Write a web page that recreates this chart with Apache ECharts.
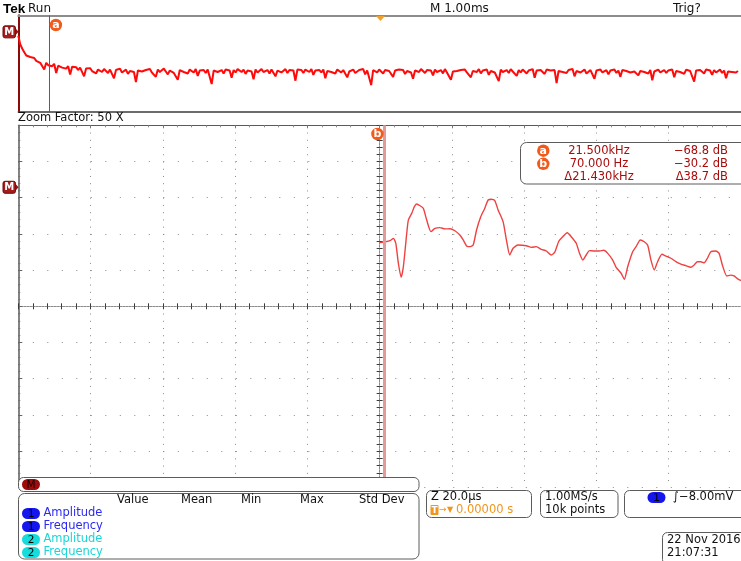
<!DOCTYPE html>
<html>
<head>
<meta charset="utf-8">
<script src="https://cdn.jsdelivr.net/npm/echarts@6/dist/echarts.min.js"></script>
<style>
  html, body { margin: 0; padding: 0; background: #ffffff; }
  #scope { width: 741px; height: 561px; }
</style>
</head>
<body>
<div id="scope"></div>
<script>
// FFT of the math channel (M): full-span overview, 0..500 kHz, level in dB.
const overviewStepKHz = 1.3793;
const overviewDb = [
  -8, -26, -35, -42, -49, -46, -52, -55, -54, -60, -57, -64, -61, -78, -64, -69, -68, -71, -66, -85,
  -70, -68, -74, -70, -76, -71, -88, -72, -75, -73, -79, -74, -77, -92, -76, -80, -75, -81, -77, -86,
  -78,
  -79, -83, -77, -81, -85, -78, -80, -96, -79, -82, -76, -84, -80, -78, -87, -81, -77, -83, -104, -80,
  -78, -82, -86, -79, -81, -77, -84, -80, -93, -78, -83, -79, -76, -82, -88, -80, -78, -85, -81, -99,
  -79, -77, -83, -80, -86, -78, -81, -84, -77, -91, -80, -82, -79, -85, -78, -81, -108, -80, -77, -83,
  -81, -79, -86, -78, -82, -80, -95, -79, -84, -77, -81, -83, -78, -87, -80, -79, -82, -98, -78, -84,
  -80, -77, -83, -81, -79, -86, -78, -82, -92, -80, -78, -84, -81, -77, -85, -79, -83, -80, -101, -78,
  -82, -79, -85, -78, -81, -83, -77, -89, -80, -82, -79, -84, -78, -96, -81, -79, -83, -80, -86, -78,
  -81, -84, -79, -77, -94, -82, -80, -78, -85, -81, -79, -83, -77, -88, -80, -82, -110, -79, -81, -84,
  -78, -80, -86, -79, -83, -81, -77, -93, -80, -84, -78, -82, -79, -87, -81, -78, -84, -97, -80, -79,
  -83, -77, -81, -85, -79, -82, -80, -90, -78, -83, -81, -79, -86, -77, -84, -80, -99, -82, -78, -81,
  -85, -79, -82, -78, -84, -80, -94, -81, -79, -83, -77, -86, -80, -82, -78, -89, -81, -79, -84, -80,
  -102, -78, -83, -81, -79, -85, -77, -82, -80, -91, -79, -84, -78, -81, -86, -80, -82, -77, -95, -80,
  -83, -79, -81, -87, -78, -82, -80, -84, -79, -106, -81, -78, -83, -80, -85, -79, -82, -77, -92, -81,
  -79, -84, -80, -78, -86, -82, -79, -81, -97, -80, -83, -78, -84, -81, -79, -88, -80, -82, -78, -85,
  -80, -93, -79, -83, -81, -78, -84, -80, -82, -79, -90, -81, -77, -83, -80, -86, -79, -100, -82, -80,
  -78, -84, -81, -79, -85, -80, -82, -78, -94, -81, -79, -83, -80, -87, -78, -82, -81, -79, -103, -80,
  -83, -79, -81, -86, -78, -82, -80, -89, -79, -84, -81, -78, -85, -80, -96, -82, -79, -83, -80, -84,
  -81
];

// Zoomed view (50 X): -5 kHz .. +5 kHz window, spectrum starts at 0 Hz.
const zoomFreqHz = [
  0, 70, 145, 190, 223, 259, 297, 328, 375, 397, 444, 480, 513, 559, 604, 651, 710, 766, 834, 903,
  972, 1041, 1110, 1156, 1203, 1248, 1294, 1341, 1400, 1455, 1501, 1548, 1593, 1639, 1708, 1754, 1800, 1846, 1914, 2030,
  2099, 2168, 2237, 2306, 2375, 2421, 2476, 2513, 2596, 2651, 2720, 2766, 2811, 2858, 2903, 2972, 3041, 3101, 3156, 3225,
  3272, 3341, 3386, 3432, 3501, 3548, 3607, 3662, 3708, 3754, 3800, 3846, 3906, 3961, 4030, 4099, 4168, 4237, 4306, 4352,
  4397, 4444, 4490, 4535, 4582, 4651, 4697, 4742, 4803, 4858, 4903, 4959, 5000
];
const zoomDb = [
  -30.6, -30.2, -29.5, -28.2, -30.9, -42.0, -49.7, -43.9, -25.4, -18.1, -14.4, -10.7, -9.2, -10.2, -11.6, -18.1, -24.5, -22.7, -22.3, -23.0,
  -22.9, -24.0, -26.4, -29.1, -32.4, -32.8, -31.9, -23.6, -16.2, -11.6, -7.0, -6.6, -7.4, -12.5, -19.0, -29.1, -37.4, -33.7, -31.9, -32.3,
  -33.2, -32.8, -34.3, -35.2, -37.4, -36.0, -30.1, -28.2, -25.1, -27.3, -30.9, -36.5, -40.2, -37.4, -35.0, -35.2, -35.2, -34.8, -36.5, -40.2,
  -44.2, -47.5, -50.8, -43.9, -35.6, -32.8, -29.1, -30.1, -31.9, -40.2, -45.7, -41.1, -37.0, -38.0, -39.2, -41.1, -42.4, -43.3, -44.2, -42.9,
  -41.1, -41.1, -41.7, -39.2, -35.6, -35.2, -36.5, -42.9, -49.0, -48.5, -49.0, -50.7, -51.5
];

// Cursor readouts.
const cursorAKHz = 21.5;
const cursorBHz = 70;
const readoutFreq = ['21.500kHz', '70.000 Hz', '\u039421.430kHz'];
const readoutLevel = ['\u221268.8 dB', '\u221230.2 dB', '\u039438.7 dB'];

// Measurement table.
const measureHeaders = ['Value', 'Mean', 'Min', 'Max', 'Std Dev'];
const measureRows = [['1', 'Amplitude'], ['1', 'Frequency'], ['2', 'Amplitude'], ['2', 'Frequency']];

// Vertical scale: 20 dB per division, 10 divisions.
const DB_MAX = 34.25;
const DB_MIN = -165.75;

const FONT = '"DejaVu Sans", "Noto Sans", sans-serif';
const chart = echarts.init(document.getElementById('scope'), null, { renderer: 'canvas' });

const overviewData = overviewDb.map((v, i) => [i * overviewStepKHz, v]);
const zoomData = zoomFreqHz.map((f, i) => [f, zoomDb[i]]);

const noParts = { axisLabel: { show: false }, axisTick: { show: false }, splitLine: { show: false } };

function centreAxis(extra, inside) {
  return Object.assign({
    gridIndex: 1, type: 'value', min: -5, max: 5, interval: 1,
    axisLine: { show: true, onZero: true, lineStyle: { color: '#8c8c8c', width: 1, type: [2, 1] } },
    axisTick: { show: true, inside: inside, length: 3, lineStyle: { color: '#3a3a3a', width: 1 } },
    minorTick: { show: true, splitNumber: 5, length: 3, lineStyle: { color: '#3a3a3a', width: 1 } },
    axisLabel: { show: false },
    splitLine: { show: false }
  }, extra);
}

chart.setOption({
  animation: false,
  backgroundColor: '#ffffff',
  grid: [
    { left: 18.3, top: 15.3, width: 725, height: 96.7 },
    { left: 18.3, top: 125.3, width: 725, height: 362 }
  ],
  xAxis: [
    Object.assign({ gridIndex: 0, type: 'value', min: 0, max: 500, position: 'top',
      axisLine: { show: true, onZero: false, lineStyle: { color: '#8c8c8c', width: 2 } } }, noParts),
    Object.assign({ gridIndex: 0, type: 'value', min: 0, max: 500, position: 'bottom',
      axisLine: { show: true, onZero: false, lineStyle: { color: '#3c3c3c', width: 1.5 } } }, noParts),
    { gridIndex: 1, type: 'value', min: -5000, max: 5000, interval: 1000, position: 'top',
      axisLine: { show: true, onZero: false, lineStyle: { color: '#5a5a5a', width: 1 } },
      axisTick: { show: true, inside: true, length: 3, lineStyle: { color: '#777' } },
      minorTick: { show: true, splitNumber: 5, length: 2, lineStyle: { color: '#888' } },
      axisLabel: { show: false },
      splitLine: { show: true, lineStyle: { color: '#8a8a8a', width: 1, type: [1, 6.24] } } },
    centreAxis({ position: 'bottom', axisLine: { show: true, onZero: true, onZeroAxisIndex: 2,
      lineStyle: { color: '#8c8c8c', width: 1, type: [2, 1] } } }, true),
    centreAxis({ position: 'bottom', axisLine: { show: false, onZero: true, onZeroAxisIndex: 2 } }, false)
  ],
  yAxis: [
    Object.assign({ gridIndex: 0, type: 'value', min: DB_MIN, max: DB_MAX, position: 'left',
      axisLine: { show: true, onZero: false, lineStyle: { color: '#8b0a0a', width: 2 } } }, noParts),
    Object.assign({ gridIndex: 1, type: 'value', min: DB_MIN, max: DB_MAX, show: false }, noParts),
    { gridIndex: 1, type: 'value', min: -5, max: 5, interval: 1, position: 'left',
      axisLine: { show: true, onZero: false, lineStyle: { color: '#5a5a5a', width: 1.5 } },
      axisTick: { show: true, inside: true, length: 4, lineStyle: { color: '#666' } },
      minorTick: { show: true, splitNumber: 5, length: 2, lineStyle: { color: '#777' } },
      axisLabel: { show: false },
      splitLine: { show: true, lineStyle: { color: '#8a8a8a', width: 1, type: [1, 13.5] } } },
    centreAxis({ position: 'left', axisLine: { show: true, onZero: true, onZeroAxisIndex: 3,
      lineStyle: { color: '#8c8c8c', width: 1, type: [2, 1] } } }, true),
    centreAxis({ position: 'left', axisLine: { show: false, onZero: true, onZeroAxisIndex: 3 } }, false)
  ],
  series: [
    {
      name: 'M overview', type: 'line', xAxisIndex: 0, yAxisIndex: 0,
      data: overviewData, showSymbol: false, symbol: 'none', z: 4,
      lineStyle: { color: '#ff0a0a', width: 2 },
      markLine: {
        silent: true, symbol: ['none', 'none'], animation: false,
        label: { show: false },
        lineStyle: { color: '#b23a3a', width: 1, type: 'solid' },
        data: [{ xAxis: cursorAKHz }]
      }
    },
    {
      name: 'M zoom', type: 'line', xAxisIndex: 2, yAxisIndex: 1,
      data: zoomData, showSymbol: false, symbol: 'none', smooth: 0.2, z: 4,
      lineStyle: { color: '#ee4242', width: 1.4 },
      markLine: {
        silent: true, symbol: ['none', 'none'], animation: false,
        label: { show: false },
        lineStyle: { color: '#e29a9a', width: 3, type: 'solid' },
        data: [{ xAxis: cursorBHz }]
      }
    }
  ]
});

// ---- screen annotations ----
function txt(x, y, s, o) {
  o = o || {};
  return {
    type: 'text', x: x, y: y, z: 130, silent: true,
    style: {
      text: s, fill: o.color || '#111',
      font: (o.weight || 'normal') + ' ' + (o.size || 11.5) + 'px ' + (o.family || FONT),
      textAlign: o.align || 'left', textVerticalAlign: 'middle'
    }
  };
}
function box(x, y, w, h, r, o) {
  o = o || {};
  return {
    type: 'rect', z: o.z || 110, silent: true,
    shape: { x: x, y: y, width: w, height: h, r: r },
    style: { fill: o.fill || '#ffffff', stroke: o.stroke || '#5c5c5c', lineWidth: o.lw || 1 }
  };
}
function badge(cx, cy, ch) {
  return [
    { type: 'circle', z: 121, silent: true, shape: { cx: cx, cy: cy, r: 6.2 }, style: { fill: '#f25a1c' } },
    txt(cx, cy, ch, { color: '#ffffff', size: 11, weight: 'bold', align: 'center' })
  ];
}
function pill(x, cy, w, h, fill, label, labelColor) {
  return [
    { type: 'rect', z: 121, silent: true, shape: { x: x, y: cy - h / 2, width: w, height: h, r: h / 2 }, style: { fill: fill } },
    txt(x + w / 2, cy + 0.5, label, { color: labelColor || '#000', size: 10.5, align: 'center' })
  ];
}
function refMarker(y) {
  return [
    { type: 'rect', z: 121, silent: true, shape: { x: 3, y: y - 6, width: 12.5, height: 12, r: 2 },
      style: { fill: '#a51c1c', stroke: '#6d0c0c', lineWidth: 1 } },
    { type: 'polygon', z: 121, silent: true, shape: { points: [[15.5, y - 3.5], [18.5, y], [15.5, y + 3.5]] },
      style: { fill: '#8e1414' } },
    txt(9.2, y + 0.5, 'M', { color: '#ffffff', size: 10, weight: 'bold', align: 'center' })
  ];
}

const ax = chart.convertToPixel({ xAxisIndex: 0 }, cursorAKHz);
const bx = chart.convertToPixel({ xAxisIndex: 2 }, cursorBHz);
const refTop = chart.convertToPixel({ yAxisIndex: 0 }, 0);
const refZoom = chart.convertToPixel({ yAxisIndex: 1 }, 0);

let g = [];
// header line
g.push(txt(3, 9, 'Tek', { size: 13.5, weight: 'bold', color: '#000', family: '"Liberation Sans", sans-serif' }));
g.push(txt(28, 9, 'Run', { size: 12, color: '#111' }));
g.push(txt(430, 9, 'M 1.00ms', { size: 12 }));
g.push(txt(673, 9, 'Trig?', { size: 12 }));
g.push({ type: 'polygon', z: 121, silent: true, shape: { points: [[376, 16], [385, 16], [380.5, 21]] }, style: { fill: '#f0a02c' } });
g.push(txt(18, 118, 'Zoom Factor: 50 X', { size: 11.5 }));

// reference markers and cursor badges
g = g.concat(refMarker(refTop), refMarker(refZoom));
g = g.concat(badge(ax + 6.5, 25, 'a'), badge(bx - 7.3, 134, 'b'));

// cursor readout
g.push(box(520.5, 142.5, 232, 41.5, 6));
const rowY = [150.7, 163.8, 177];
g = g.concat(badge(543.3, rowY[0], 'a'), badge(543.3, rowY[1], 'b'));
readoutFreq.forEach((s, i) => g.push(txt(599, rowY[i], s, { color: '#a80c0c', align: 'center' })));
readoutLevel.forEach((s, i) => g.push(txt(728, rowY[i], s, { color: '#a80c0c', align: 'right' })));

// math bar and measurement table
g.push(box(18.5, 477.5, 400.5, 14, 5));
g = g.concat(pill(22, 484.5, 18, 11, '#9c0c0c', 'M', '#1a0000'));
g.push(box(18.5, 493.5, 400.5, 65.5, 6));
const headX = [117, 181, 241, 300, 359];
measureHeaders.forEach((s, i) => g.push(txt(headX[i], 500.5, s, { size: 11.5 })));
const rowYs = [513.5, 526.5, 539.5, 552.5];
measureRows.forEach((r, i) => {
  const isOne = r[0] === '1';
  g = g.concat(pill(22, rowYs[i], 18, 11, isOne ? '#1515ee' : '#16dcdc', r[0], '#000'));
  g.push(txt(43.5, rowYs[i], r[1], { size: 11.5, color: isOne ? '#2a2af0' : '#1ad6d6' }));
});

// timebase / acquisition / trigger boxes
g.push(box(426.5, 490.5, 105, 27, 5));
g.push(txt(431, 497.5, 'Z 20.0\u00b5s', { size: 11.5 }));
g.push({ type: 'rect', z: 121, silent: true, shape: { x: 430.5, y: 505, width: 8, height: 10, r: 1 }, style: { fill: '#f0961e' } });
g.push(txt(434.5, 510.5, 'T', { size: 9, weight: 'bold', color: '#ffffff', align: 'center' }));
g.push(txt(439, 510, '\u2192', { size: 9, color: '#f0961e' }));
g.push(txt(447, 510, '\u25bc', { size: 8, color: '#f0961e' }));
g.push(txt(456, 510.5, '0.00000 s', { size: 11.5, color: '#f0961e' }));

g.push(box(540.5, 490.5, 77.5, 27, 5));
g.push(txt(545, 497.5, '1.00MS/s', { size: 11.5 }));
g.push(txt(545, 510.5, '10k points', { size: 11.5 }));

g.push(box(624.5, 490.5, 125, 27, 5));
g = g.concat(pill(647.5, 497.5, 18, 11, '#1515ee', '1', '#000'));
g.push(txt(673, 497.5, '\u222b\u22128.00mV', { size: 11.5 }));

g.push(box(662.5, 532.5, 90, 32, 5));
g.push(txt(667, 540.5, '22 Nov 2016', { size: 11.5 }));
g.push(txt(667, 553.5, '21:07:31', { size: 11.5 }));

chart.setOption({ graphic: g });
</script>
</body>
</html>
